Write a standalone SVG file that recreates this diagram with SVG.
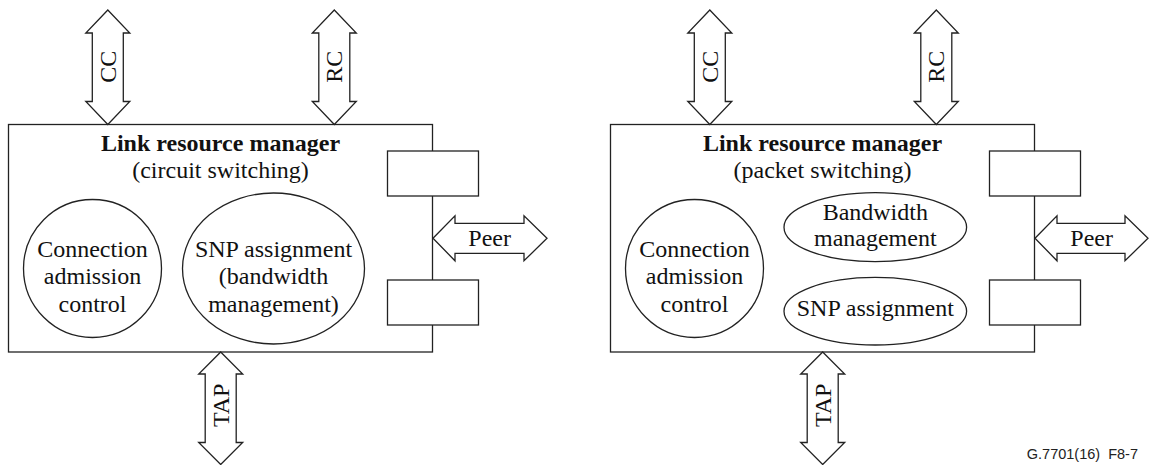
<svg xmlns="http://www.w3.org/2000/svg" width="1149" height="465" viewBox="0 0 1149 465">
<style>
.ln{fill:#fff;stroke:#222;stroke-width:1.3}
.t{font-family:"Liberation Serif","Times New Roman",serif;font-size:24px;fill:#111;text-anchor:middle}
.b{font-weight:bold}
.f{font-family:"Liberation Sans",Arial,sans-serif;font-size:14.5px;fill:#222;text-anchor:end;white-space:pre}
</style>
<rect width="1149" height="465" fill="#fff"/>

<g id="lrm-circuit">
<rect class="ln" x="8.5" y="124.5" width="424" height="227.5"/>
<text class="t b" x="220.5" y="151">Link resource manager</text>
<text class="t" x="220.5" y="178">(circuit switching)</text>
</g>
<g id="cac-circuit">
<circle class="ln" cx="92.5" cy="268.5" r="69"/>
<text class="t" x="92.5" y="256.5">Connection</text>
<text class="t" x="92.5" y="284">admission</text>
<text class="t" x="92.5" y="311.5">control</text>
</g>
<g id="snp-circuit">
<ellipse class="ln" cx="273.5" cy="268.5" rx="91" ry="75.5"/>
<text class="t" x="273.5" y="256.5">SNP assignment</text>
<text class="t" x="273.5" y="284">(bandwidth</text>
<text class="t" x="273.5" y="311.5">management)</text>
</g>
<g id="port-circuit-top"><rect class="ln" x="387.5" y="151" width="91" height="45"/></g>
<g id="port-circuit-bottom"><rect class="ln" x="387.5" y="280" width="91" height="45"/></g>

<g id="lrm-packet">
<rect class="ln" x="610.5" y="124.5" width="424" height="227.5"/>
<text class="t b" x="822.5" y="151">Link resource manager</text>
<text class="t" x="822.5" y="178">(packet switching)</text>
</g>
<g id="cac-packet">
<circle class="ln" cx="694.5" cy="268.5" r="69"/>
<text class="t" x="694.5" y="256.5">Connection</text>
<text class="t" x="694.5" y="284">admission</text>
<text class="t" x="694.5" y="311.5">control</text>
</g>
<g id="bw-packet">
<ellipse class="ln" cx="875.3" cy="227.2" rx="91.3" ry="34.5"/>
<text class="t" x="875.3" y="219.5">Bandwidth</text>
<text class="t" x="875.3" y="245.5">management</text>
</g>
<g id="snp-packet">
<ellipse class="ln" cx="875.3" cy="311.2" rx="91.3" ry="33.8"/>
<text class="t" x="875.3" y="316">SNP assignment</text>
</g>
<g id="port-packet-top"><rect class="ln" x="989.5" y="151" width="91" height="45"/></g>
<g id="port-packet-bottom"><rect class="ln" x="989.5" y="280" width="91" height="45"/></g>

<g id="connectors">
<g id="cc-circuit">
<path class="ln" d="M107.8,10 L129.8,33 L123.3,33 L123.3,101.5 L129.8,101.5 L107.8,124.5 L85.8,101.5 L92.3,101.5 L92.3,33 L85.8,33 Z"/>
<text class="t" transform="translate(115.8,66.7) rotate(-90)">CC</text>
</g>
<g id="rc-circuit">
<path class="ln" d="M334.3,10 L356.3,33 L349.8,33 L349.8,101.5 L356.3,101.5 L334.3,124.5 L312.3,101.5 L318.8,101.5 L318.8,33 L312.3,33 Z"/>
<text class="t" transform="translate(342.3,66.7) rotate(-90)">RC</text>
</g>
<g id="tap-circuit">
<path class="ln" d="M220.7,352 L242.7,374 L236.2,374 L236.2,442.5 L242.7,442.5 L220.7,464.5 L198.7,442.5 L205.2,442.5 L205.2,374 L198.7,374 Z"/>
<text class="t" transform="translate(228.7,405.3) rotate(-90)">TAP</text>
</g>
<g id="peer-circuit">
<path class="ln" d="M433,238.3 L455,215.8 L455,223.3 L524,223.3 L524,215.8 L547,238.3 L524,260.8 L524,253.3 L455,253.3 L455,260.8 Z"/>
<text class="t" x="489.7" y="245.7">Peer</text>
</g>
<g id="cc-packet">
<path class="ln" d="M709.8,10 L731.8,33 L725.3,33 L725.3,101.5 L731.8,101.5 L709.8,124.5 L687.8,101.5 L694.3,101.5 L694.3,33 L687.8,33 Z"/>
<text class="t" transform="translate(717.8,66.7) rotate(-90)">CC</text>
</g>
<g id="rc-packet">
<path class="ln" d="M936.3,10 L958.3,33 L951.8,33 L951.8,101.5 L958.3,101.5 L936.3,124.5 L914.3,101.5 L920.8,101.5 L920.8,33 L914.3,33 Z"/>
<text class="t" transform="translate(944.3,66.7) rotate(-90)">RC</text>
</g>
<g id="tap-packet">
<path class="ln" d="M822.7,352 L844.7,374 L838.2,374 L838.2,442.5 L844.7,442.5 L822.7,464.5 L800.7,442.5 L807.2,442.5 L807.2,374 L800.7,374 Z"/>
<text class="t" transform="translate(830.7,405.3) rotate(-90)">TAP</text>
</g>
<g id="peer-packet">
<path class="ln" d="M1035,238.3 L1057,215.8 L1057,223.3 L1125,223.3 L1125,215.8 L1148,238.3 L1125,260.8 L1125,253.3 L1057,253.3 L1057,260.8 Z"/>
<text class="t" x="1091.7" y="245.7">Peer</text>
</g>
</g>

<text class="f" x="1138" y="459" xml:space="preserve">G.7701(16)  F8-7</text>
</svg>
